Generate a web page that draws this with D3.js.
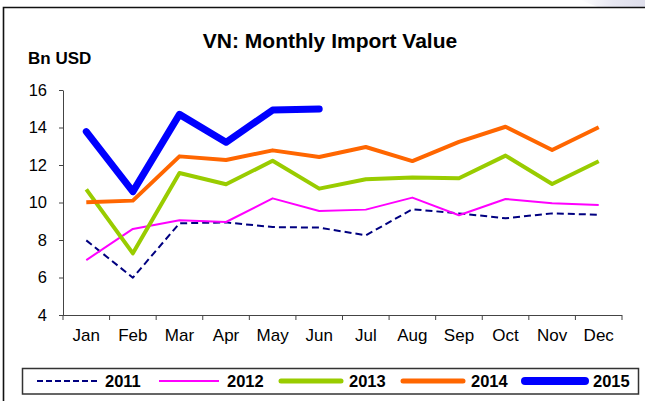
<!DOCTYPE html>
<html>
<head>
<meta charset="utf-8">
<script src="https://cdn.jsdelivr.net/npm/d3@7"></script>
<style>
    body { margin: 0; background: #fff; }
    svg { display: block; font-family: "Liberation Sans", Arial, sans-serif; }
</style>
</head>
<body>
<div id="mainDiv"></div>
<script>
'use strict';

var months = ["Jan", "Feb", "Mar", "Apr", "May", "Jun", "Jul", "Aug", "Sep", "Oct", "Nov", "Dec"];
var yTicks = [4, 6, 8, 10, 12, 14, 16];

var v2011 = [7.98, 5.99, 8.89, 8.94, 8.69, 8.66, 8.25, 9.64, 9.42, 9.16, 9.42, 9.35];
var v2012 = [6.93, 8.59, 9.05, 8.96, 10.22, 9.55, 9.62, 10.26, 9.32, 10.19, 9.96, 9.87];
var v2013 = [10.70, 7.29, 11.57, 10.97, 12.23, 10.74, 11.24, 11.33, 11.29, 12.50, 10.99, 12.20];
var v2014 = [10.01, 10.10, 12.46, 12.27, 12.78, 12.43, 12.96, 12.21, 13.23, 14.04, 12.80, 14.01];
var v2015 = [13.78, 10.58, 14.70, 13.21, 14.93, 14.99];

var seriesNames = ["2011", "2012", "2013", "2014", "2015"];

var myApp = {};

myApp.styles = {
    "2011": { color: "#000080", width: 2, dash: "7,4", legendDash: "6,3", legendWidth: 2 },
    "2012": { color: "#ff00ff", width: 2, dash: null, legendDash: null, legendWidth: 2 },
    "2013": { color: "#99cc00", width: 4, dash: null, legendDash: null, legendWidth: 5 },
    "2014": { color: "#ff6600", width: 4, dash: null, legendDash: null, legendWidth: 5 },
    "2015": { color: "#0000ff", width: 7, dash: null, legendDash: null, legendWidth: 8 }
};

myApp.run = function ()
{
    var values = { "2011": v2011, "2012": v2012, "2013": v2013, "2014": v2014, "2015": v2015 };

    var svg = d3.select("#mainDiv").append("svg")
        .attr("width", 645)
        .attr("height", 401);

    // faint decoration in the top right corner
    var grad = svg.append("defs").append("linearGradient")
        .attr("id", "corner").attr("x1", "0").attr("x2", "1");
    grad.append("stop").attr("offset", "0").attr("stop-color", "#ffffff");
    grad.append("stop").attr("offset", "0.5").attr("stop-color", "#e8e8f2");
    grad.append("stop").attr("offset", "1").attr("stop-color", "#dedeeb");
    svg.append("path")
        .attr("d", "M580,0 L645,0 L645,7 L598,7 Z")
        .attr("fill", "url(#corner)");

    // frame
    svg.append("path")
        .attr("d", "M3.5,401 L3.5,7.5 L645,7.5")
        .attr("fill", "none")
        .attr("stroke", "#111")
        .attr("stroke-width", 1.6);

    var x = d3.scaleBand().domain(months).range([63, 622]);
    var y = d3.scaleLinear().domain([4, 16]).range([315, 90]);

    svg.append("text")
        .attr("x", 330).attr("y", 48)
        .attr("text-anchor", "middle")
        .attr("font-size", "21px")
        .attr("font-weight", "bold")
        .text("VN: Monthly Import Value");

    svg.append("text")
        .attr("x", 28).attr("y", 64)
        .attr("font-size", "17px")
        .attr("font-weight", "bold")
        .text("Bn USD");

    var yAxis = svg.append("g")
        .attr("transform", "translate(63,0)")
        .call(d3.axisLeft(y).tickValues(yTicks).tickSize(4).tickPadding(12).tickSizeOuter(0));
    yAxis.selectAll("text").attr("font-size", "16.5px").attr("fill", "#000");
    yAxis.selectAll("line, path").attr("stroke", "#444");

    var xAxis = svg.append("g")
        .attr("transform", "translate(0,315)")
        .call(d3.axisBottom(x).tickSize(0).tickPadding(14));
    xAxis.selectAll("text").attr("font-size", "17px").attr("fill", "#000");
    xAxis.select("path").attr("stroke", "#444").attr("d", "M63,0.5H622");

    // tick marks between the categories
    var edges = months.map(function (m) { return x(m); }).concat([x.range()[1]]);
    xAxis.selectAll(".edge")
        .data(edges)
        .enter()
        .append("line")
            .attr("class", "edge")
            .attr("x1", function (d) { return d; })
            .attr("x2", function (d) { return d; })
            .attr("y1", 0)
            .attr("y2", 5)
            .attr("stroke", "#444");

    var line = d3.line()
        .x(function (d, i) { return x(months[i]) + x.bandwidth() / 2; })
        .y(function (d) { return y(d); });

    seriesNames.forEach(function (name)
    {
        var st = myApp.styles[name];
        svg.append("path")
            .datum(values[name])
            .attr("d", line)
            .attr("fill", "none")
            .attr("stroke", st.color)
            .attr("stroke-width", st.width)
            .attr("stroke-dasharray", st.dash)
            .attr("stroke-linejoin", "round")
            .attr("stroke-linecap", name === "2015" ? "round" : "butt");
    });

    // legend
    var legend = svg.append("g");
    legend.append("rect")
        .attr("x", 22.5).attr("y", 368.5)
        .attr("width", 616).attr("height", 25.5)
        .attr("fill", "#fff")
        .attr("stroke", "#333")
        .attr("stroke-width", 1.5);

    var items = legend.selectAll(".item")
        .data(seriesNames)
        .enter()
        .append("g")
            .attr("class", "item")
            .attr("transform", function (d, i) { return "translate(" + (37 + i * 122) + ",381)"; });

    items.append("line")
        .attr("x1", 0).attr("x2", 60)
        .attr("stroke", function (d) { return myApp.styles[d].color; })
        .attr("stroke-width", function (d) { return myApp.styles[d].legendWidth; })
        .attr("stroke-dasharray", function (d) { return myApp.styles[d].legendDash; })
        .attr("stroke-linecap", function (d) { return myApp.styles[d].legendWidth > 3 ? "round" : "butt"; });

    items.append("text")
        .attr("x", 68).attr("y", 6)
        .attr("font-size", "16.5px")
        .attr("font-weight", "bold")
        .text(function (d) { return d; });
}

window.onload = myApp.run;
</script>
</body>
</html>
